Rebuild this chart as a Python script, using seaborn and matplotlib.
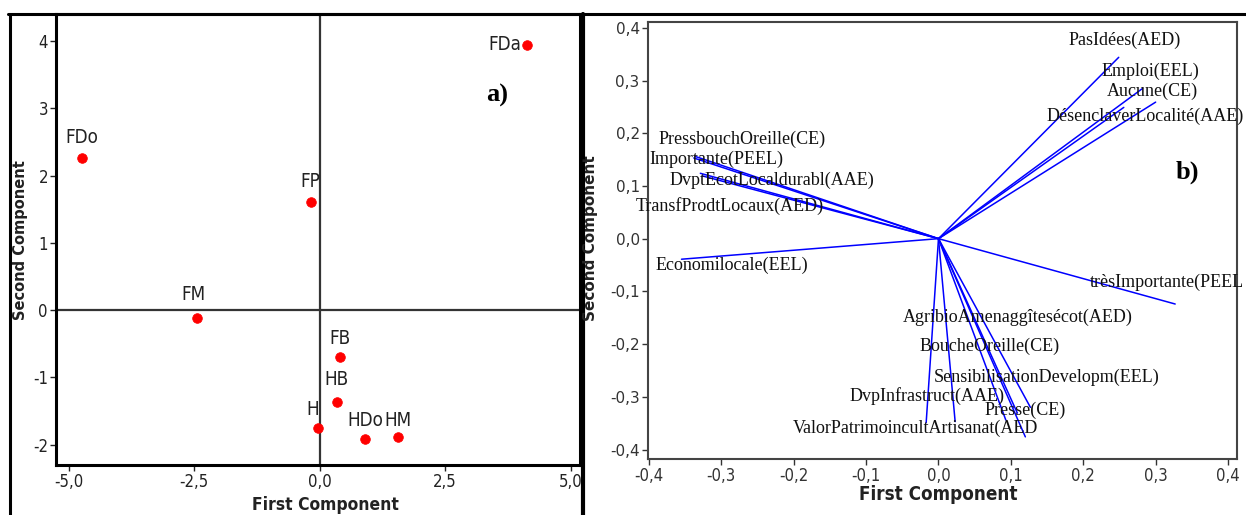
import numpy as np
import pandas as pd
import matplotlib
matplotlib.use("Agg")
import matplotlib.pyplot as plt
import seaborn as sns
from matplotlib import font_manager
from matplotlib.lines import Line2D

# ---------------- data: panel a) (scores) ----------------
obs_labels = ["FDa", "FDo", "FP", "FM", "FB", "HB", "H", "HDo", "HM"]
obs_pc1 = [4.12, -4.74, -0.18, -2.44, 0.40, 0.34, -0.04, 0.91, 1.56]
obs_pc2 = [3.94, 2.26, 1.60, -0.11, -0.69, -1.37, -1.75, -1.91, -1.89]

# ---------------- data: panel b) (loadings) ----------------
var_labels = [
    "PasIdées(AED)", "Emploi(EEL)", "Aucune(CE)", "DésenclaverLocalité(AAE)",
    "PressbouchOreille(CE)", "Importante(PEEL)", "DvptEcotLocaldurabl(AAE)",
    "TransfProdtLocaux(AED)", "Economilocale(EEL)", "trèsImportante(PEEL",
    "AgribioAmenaggîtesécot(AED)", "BoucheOreille(CE)", "SensibilisationDevelopm(EEL)",
    "DvpInfrastruct(AAE)", "Presse(CE)", "ValorPatrimoincultArtisanat(AED",
]
var_pc1 = [0.249, 0.282, 0.256, 0.300, -0.338, -0.336, -0.329, -0.326, -0.355, 0.327,
           0.109, 0.093, 0.127, 0.023, 0.120, -0.017]
var_pc2 = [0.344, 0.285, 0.249, 0.259, 0.153, 0.156, 0.124, 0.119, -0.039, -0.124,
           -0.331, -0.344, -0.320, -0.347, -0.376, -0.349]

# ---------------- tick labels ----------------
a_xticks = [-5.0, -2.5, 0.0, 2.5, 5.0]
a_xticklabels = ["-5,0", "-2,5", "0,0", "2,5", "5,0"]
a_yticks = [4, 3, 2, 1, 0, -1, -2]
a_yticklabels = ["4", "3", "2", "1", "0", "-1", "-2"]
b_ticks = [-0.4, -0.3, -0.2, -0.1, 0.0, 0.1, 0.2, 0.3, 0.4]
b_ticklabels = ["-0,4", "-0,3", "-0,2", "-0,1", "0,0", "0,1", "0,2", "0,3", "0,4"]

# ---------------- label placement (layout, not data) ----------------
# panel a: offsets in points from each point
obs_label_offsets = [(-4, 0), (0, 15), (0, 15), (-3, 16.5), (0, 13), (0, 16.5), (-3.5, 13), (0, 13), (0, 12.5)]
obs_label_ha = ["right", "center", "center", "center", "center", "center", "center", "center", "center"]
# panel b: label anchor positions in data coordinates
var_label_pos = [
    (0.257, 0.377), (0.293, 0.318), (0.295, 0.279), (0.285, 0.232),
    (-0.272, 0.189), (-0.307, 0.151), (-0.230, 0.111), (-0.289, 0.061),
    (-0.285, -0.050), (0.4225, -0.083),
    (0.110, -0.150), (0.070, -0.205), (0.149, -0.264),
    (-0.016, -0.2985), (0.120, -0.326), (-0.032, -0.3605),
]
var_label_ha = ["center"] * 9 + ["right"] + ["center"] * 6

# ---------------- style ----------------
sns.set_theme(style="ticks")
names = {f.name for f in font_manager.fontManager.ttflist}
if "Liberation Sans Narrow" in names:
    COND = dict(family=["Liberation Sans Narrow", "DejaVu Sans"])
else:
    COND = dict(family=["DejaVu Sans"], stretch="condensed")
SERIF = ["Liberation Serif", "DejaVu Serif"]
plt.rcParams["font.family"] = ["DejaVu Sans"]

W, H = 1246, 515
fig = plt.figure(figsize=(W / 100, H / 100), dpi=100)
fig.patch.set_facecolor("white")

def fx(px):
    return px / W

def fy(py):
    return 1 - py / H

# ---------------- panel a ----------------
axA = fig.add_axes([fx(56.3), fy(465), fx(579.8) - fx(56.3), fy(14) - fy(465)])
dfa = pd.DataFrame({"pc1": obs_pc1, "pc2": obs_pc2, "lab": obs_labels})
axA.axhline(0, color="#333333", lw=1.6, zorder=1)
axA.axvline(0, color="#333333", lw=1.6, zorder=1)
sns.scatterplot(data=dfa, x="pc1", y="pc2", ax=axA, color="#ff0000", edgecolor="#ff0000",
                s=48, zorder=3, legend=False)
for i, row in dfa.iterrows():
    axA.annotate(row["lab"], (row["pc1"], row["pc2"]), xytext=obs_label_offsets[i],
                 textcoords="offset points", ha=obs_label_ha[i], va="center",
                 fontsize=13.5, color="#222222", **COND)
axA.set_xlim(-5.245, 5.18)
axA.set_ylim(-2.30, 4.40)
axA.set_xticks(a_xticks)
axA.set_xticklabels(a_xticklabels, fontsize=12, color="#222222", **COND)
axA.set_yticks(a_yticks)
axA.set_yticklabels(a_yticklabels, fontsize=12, color="#222222", **COND)
axA.tick_params(direction="out", length=4, width=1, colors="#222222", pad=2)
for s in axA.spines.values():
    s.set_color("black")
    s.set_linewidth(2.2)
axA.set_xlabel("")
axA.set_ylabel("")
fig.text(fx(325), fy(505), "First Component", ha="center", va="center",
         fontsize=12.5, fontweight="bold", color="#222222", **COND)
fig.text(fx(21), fy(240), "Second Component", ha="center", va="center", rotation=90,
         fontsize=10.5, fontweight="bold", color="#222222", family="DejaVu Sans")
axA.text(0.842, 0.820, "a)", transform=axA.transAxes, ha="center", va="center",
         fontsize=19, fontweight="bold", family=SERIF, color="black")

# ---------------- panel b ----------------
axB = fig.add_axes([fx(648), fy(459), fx(1237) - fx(648), fy(22) - fy(459)])
rows = []
for lab, x, y in zip(var_labels, var_pc1, var_pc2):
    rows.append({"var": lab, "step": 0, "pc1": 0.0, "pc2": 0.0})
    rows.append({"var": lab, "step": 1, "pc1": x, "pc2": y})
dfb = pd.DataFrame(rows)
sns.lineplot(data=dfb, x="pc1", y="pc2", units="var", estimator=None, sort=False,
             color="#0000ff", lw=1.1, ax=axB, legend=False)
for lab, (tx, ty), ha in zip(var_labels, var_label_pos, var_label_ha):
    t = axB.text(tx, ty, lab, ha=ha, va="center", fontsize=13, family=SERIF, color="#111111")
    t.set_clip_on(False)
axB.set_xlim(-0.4013, 0.4124)
axB.set_ylim(-0.418, 0.411)
axB.set_xticks(b_ticks)
axB.set_xticklabels(b_ticklabels, fontsize=12, color="#222222", **COND)
axB.set_yticks(b_ticks)
axB.set_yticklabels(b_ticklabels, fontsize=11, color="#222222", family="DejaVu Sans")
axB.tick_params(direction="out", length=4, width=1, colors="#333333", pad=2)
for s in axB.spines.values():
    s.set_color("#444444")
    s.set_linewidth(1.5)
axB.set_xlabel("")
axB.set_ylabel("")
fig.text(fx(938), fy(494), "First Component", ha="center", va="center",
         fontsize=13.5, fontweight="bold", color="#222222", **COND)
fig.text(fx(591), fy(238), "Second Component", ha="center", va="center", rotation=90,
         fontsize=11, fontweight="bold", color="#222222", family="DejaVu Sans")
axB.text(0.915, 0.657, "b)", transform=axB.transAxes, ha="center", va="center",
         fontsize=19, fontweight="bold", family=SERIF, color="black")

# ---------------- outer frame lines ----------------
fig.add_artist(Line2D([fx(8), 1.0], [fy(13.5), fy(13.5)], transform=fig.transFigure, color="black", lw=2.2))
fig.add_artist(Line2D([fx(9.5), fx(9.5)], [0, fy(13.5)], transform=fig.transFigure, color="black", lw=2.2))
fig.add_artist(Line2D([fx(583), fx(583)], [0, fy(13.5)], transform=fig.transFigure, color="black", lw=3))

fig.savefig("out.png", dpi=100, facecolor="white")
